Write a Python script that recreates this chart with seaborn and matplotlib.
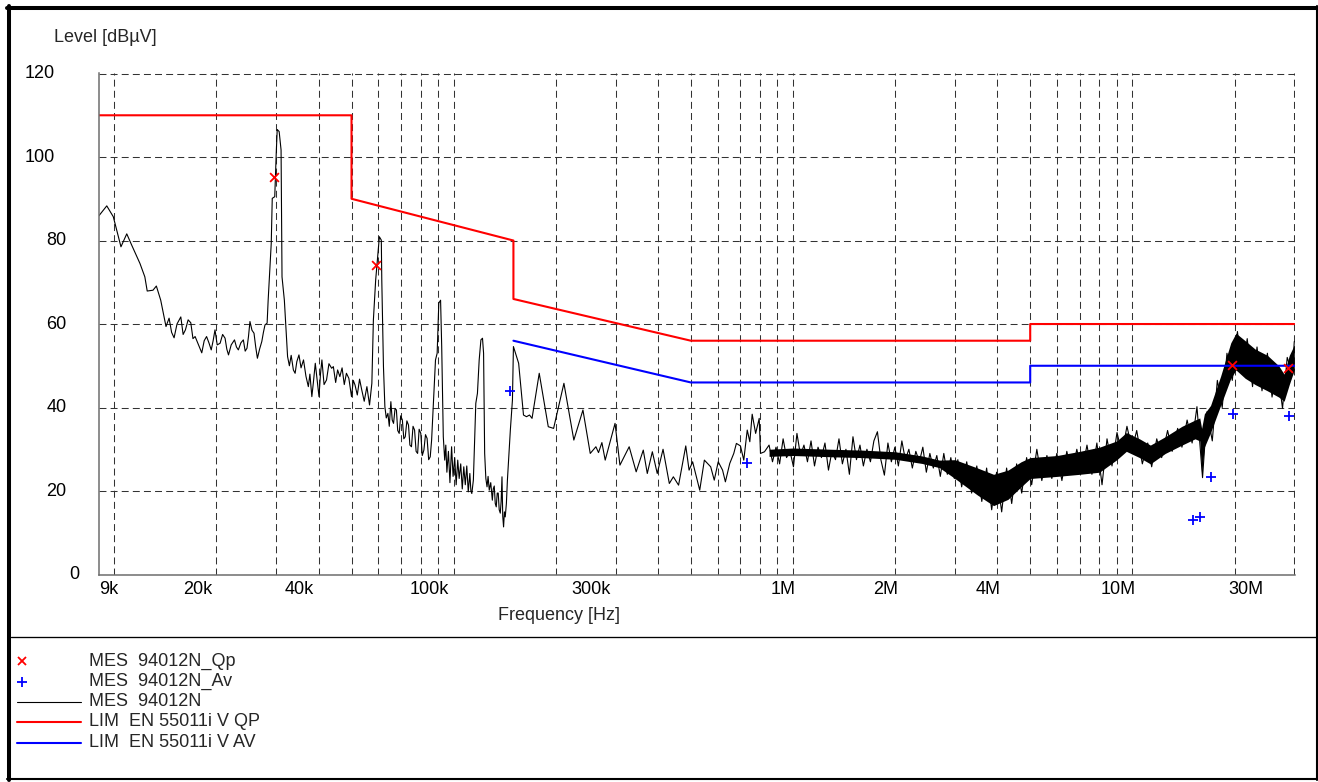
import numpy as np
import pandas as pd
import matplotlib
matplotlib.use("Agg")
import matplotlib.pyplot as plt
from matplotlib.lines import Line2D
from matplotlib.ticker import NullFormatter
import seaborn as sns

# ---------------------------------------------------------------------------
# Peak scan, 9 kHz .. 830 kHz  (frequency in kHz, level in dBuV)
trace_lf_khz = [
    9.0, 9.5, 9.93, 10.46, 10.88, 11.25, 11.9, 12.3, 12.5, 13.0, 13.3, 13.7,
    14.2, 14.5, 14.75, 15.0, 15.3, 15.7, 15.95, 16.2, 16.5, 16.8, 17.05, 17.3,
    17.7, 18.1, 18.4, 18.7, 19.0, 19.3, 19.55, 19.8, 20.1, 20.5, 20.85, 21.2,
    21.45, 21.7, 22.1, 22.6, 22.9, 23.2, 23.6, 24.0, 24.3, 24.6, 24.85, 25.1,
    25.45, 25.8, 26.1, 26.4, 26.8, 27.2, 27.5, 27.8, 28.2,
    28.4, 29.0, 29.2, 29.7, 30.0, 30.2, 30.6, 31.0, 31.2, 31.7,
    32.4, 32.8, 33.2, 33.7, 34.1, 34.5, 35.0, 35.5, 36.1, 36.7, 37.3, 37.7,
    38.2, 38.6, 39.1, 39.6,
    40.1, 40.5, 40.9, 41.5, 42.2, 42.9, 43.7, 44.2, 44.9, 45.5, 46.2, 46.9,
    47.6, 48.3, 49.1, 50.0, 50.6, 51.2, 52.0, 52.8, 53.6, 54.5, 55.5, 56.5,
    57.4, 58.0, 58.9, 60.4, 61.2, 61.4, 62.1,
    62.7, 63.3, 64.0, 64.6, 65.3, 65.9, 66.5, 67.2, 67.8, 68.4, 69.1, 69.8,
    70.6, 71.3, 72.0, 72.8, 73.6, 74.3, 75.1, 75.9, 76.7, 77.5, 78.3, 79.1,
    80.0, 80.8, 81.7, 82.6, 83.5, 84.4, 85.3, 86.1,
    88.4, 89.4, 90.4, 91.5, 92.2, 93.2,
    94.1, 94.8, 95.5, 96.5, 97.5, 98.6, 99.6, 100.7, 101.7, 102.8, 103.8,
    104.9, 106.0, 107.1, 108.2, 109.3, 110.4, 111.6, 112.4, 113.1, 114.3,
    116.2, 117.5, 118.9, 120.3, 121.6, 122.5,
    123.4, 124.4, 125.4, 126.3, 127.3, 128.6, 130.0, 130.8, 131.7, 132.6,
    133.5, 134.4, 135.3, 136.2, 137.2, 138.0, 138.8, 139.5, 140.3, 141.1,
    141.9, 143.0, 144.0, 146.9, 149.0,
    150.0, 155.4, 160.6, 163.9, 167.3, 170.2, 178.7, 190.0, 197.0,
    211.3, 226.0, 240.4, 252.6, 262.5, 267.2, 273.4, 279.6, 298.9, 309.0,
    329.0, 345.0, 362.0, 372.0, 385.0, 398.0, 414.0, 432.0, 444.0, 460.0,
    483.0, 494.0, 506.0, 531.0, 548.0, 572.0, 586.0, 602.0, 620.0, 632.0,
    651.0, 669.0, 681.0, 700.0, 716.0, 733.0, 746.0, 758.0, 776.0, 795.0,
    802.0, 824.0,
]
trace_lf_db = [
    85.9, 88.3, 85.7, 78.5, 81.6, 78.9, 74.5, 71.3, 67.9, 68.1, 69.1, 65.7,
    59.4, 61.4, 58.0, 56.7, 60.0, 61.7, 57.5, 58.6, 61.0, 60.3, 56.5, 57.0,
    55.0, 53.1, 56.0, 57.0, 55.5, 53.8, 56.0, 58.6, 55.0, 55.4, 57.5, 56.6,
    54.0, 52.6, 55.0, 56.2, 54.5, 53.8, 55.5, 56.2, 53.5, 54.2, 57.0, 60.6,
    58.5, 57.8, 54.5, 51.8, 54.0, 55.8, 58.0, 59.8, 60.2,
    65.7, 79.3, 90.1, 90.5, 100.9, 106.6, 106.1, 101.7, 71.3, 65.7,
    52.2, 50.0, 52.5, 49.0, 48.2, 51.0, 52.6, 49.5, 51.4, 47.5, 45.0, 48.0,
    42.6, 46.0, 50.6, 46.5,
    42.6, 48.0, 51.4, 45.5, 46.6, 50.5, 49.4, 49.8, 46.0, 49.0, 47.4, 49.5,
    45.5, 48.2, 47.0, 42.6, 46.5, 45.4, 43.0, 46.8, 44.2, 41.5, 45.0, 40.6,
    45.8, 61.0, 70.5, 80.9, 80.1, 70.5, 49.8,
    40.2, 37.5, 38.6, 35.5, 41.4, 37.0, 36.2, 39.8, 39.4, 34.5, 33.8, 38.0,
    37.0, 32.5, 33.0, 36.8, 35.8, 31.0, 30.6, 35.5, 34.6, 29.5, 29.0, 34.8,
    33.8, 28.5, 29.8, 33.5, 32.6, 27.5, 28.2, 32.2,
    51.4, 53.0, 65.0, 65.7, 54.6, 33.0,
    27.4, 31.0, 24.5, 29.5, 22.0, 30.6, 23.5, 28.0, 21.5, 27.4, 23.0,
    26.5, 20.5, 25.8, 21.5, 26.0, 19.8, 24.2, 20.0, 19.4, 22.6,
    41.0, 43.4, 51.4, 56.2, 56.6, 53.0,
    29.0, 23.0, 21.0, 23.5, 20.2, 22.0, 17.8, 20.5, 21.2, 17.0,
    16.2, 19.5, 19.5, 15.5, 14.7, 17.5, 23.4, 14.0, 11.4, 15.0,
    13.8, 17.0, 22.6, 34.6, 41.8,
    54.6, 50.6, 38.2, 37.8, 38.2, 37.4, 48.2, 35.4, 35.0,
    45.8, 32.2, 39.4, 29.0, 30.6, 29.2, 31.6, 27.4, 36.2, 26.2,
    30.6, 24.6, 29.8, 24.2, 29.4, 24.2, 30.0, 21.8, 23.4, 21.4,
    30.8, 25.0, 27.0, 20.2, 27.4, 25.8, 22.6, 27.0, 25.0, 22.2,
    26.6, 29.0, 31.4, 30.8, 27.4, 34.6, 31.8, 38.4, 33.8, 37.4,
    29.0, 29.4,
]

# Peak scan, 850 kHz .. 30 MHz  (frequency in MHz, level in dBuV)
trace_hf_mhz = [
    0.850, 0.870, 0.891, 0.913, 0.935, 0.957, 0.980, 1.003, 1.027, 1.052,
    1.077, 1.103, 1.130, 1.157, 1.185, 1.213, 1.242, 1.272, 1.302, 1.334,
    1.366, 1.398, 1.432, 1.466, 1.502, 1.538, 1.575, 1.612, 1.651, 1.691,
    1.731, 1.773, 1.815, 1.859, 1.904, 1.949, 1.996, 2.044, 2.093, 2.143,
    2.195, 2.247, 2.301, 2.357, 2.413, 2.471, 2.531, 2.591, 2.653, 2.717,
    2.782, 2.849, 2.918, 2.988,
    3.06, 3.14, 3.25, 3.36, 3.48, 3.60, 3.72, 3.85, 3.98, 4.12,
    4.26, 4.41, 4.56, 4.72, 4.88, 5.05, 5.23, 5.41, 5.60, 5.79, 5.99, 6.20,
    6.41, 6.63, 6.86, 7.10, 7.35, 7.60, 7.86, 8.14, 8.42, 8.71, 9.01, 9.32,
    9.64, 9.98, 10.3, 10.7, 11.1, 11.4, 11.8, 12.2, 12.7, 13.1, 13.6, 14.0,
    14.5, 15.0, 15.5, 16.1, 16.6, 17.2, 17.8, 18.4, 19.0, 19.7, 20.4, 21.1,
    21.8, 22.6, 23.3, 24.1, 25.0, 25.8, 26.7, 27.7, 28.6, 29.6, 30.0,
]
trace_hf_db = [
    31.0, 27.0, 30.5, 26.5, 32.5, 28.0, 29.5, 25.8, 33.8, 28.5,
    31.0, 27.0, 32.0, 26.0, 30.5, 28.0, 31.5, 25.0, 29.5, 27.5,
    32.5, 26.5, 30.0, 24.0, 33.0, 27.5, 31.0, 26.0, 30.0, 27.0,
    32.0, 34.2, 27.5, 23.8, 31.5, 27.0, 30.5, 26.0, 32.0, 27.5,
    30.0, 25.5, 29.5, 27.0, 30.5, 24.5, 29.0, 25.5, 28.5, 23.5,
    29.0, 24.0, 28.0, 23.0,
    27.5, 21.0, 27.0, 19.5, 26.0, 17.5, 25.5, 15.5, 24.5, 15.0,
    25.5, 17.0, 26.5, 19.5, 28.0, 21.5, 30.0, 22.5, 28.5, 23.0, 29.0, 22.5,
    29.5, 24.0, 30.0, 24.5, 31.0, 24.0, 31.5, 21.5, 32.5, 26.0, 34.0, 29.0,
    35.5, 30.0, 34.5, 26.5, 31.5, 25.8, 32.5, 28.0, 34.5, 29.5, 35.0, 30.5,
    37.0, 31.5, 40.2, 23.2, 39.0, 32.0, 46.5, 40.0, 53.0, 46.5, 58.2, 48.0,
    56.5, 45.0, 54.5, 44.0, 53.0, 42.5, 50.0, 39.8, 52.0, 48.0, 55.8,
]

# Dense core of the HF scan (MHz, lower / upper dBuV)
core_mhz = [0.85, 1.0, 1.3, 1.6, 2.0, 2.4, 2.7,
            3.0, 3.5, 3.9, 4.3, 4.7, 5.0, 6.0, 7.0,
            8.0, 9.0, 9.6, 10.5, 11.3, 12.5, 14.0, 15.3, 15.8, 16.0, 16.3,
            17.0, 18.2, 19.5, 20.2, 21.5, 23.0, 25.0, 27.0, 28.0, 29.0, 30.0]
core_lo = [28.3, 28.5, 28.2, 28.0, 27.6, 26.6, 25.6,
           23.0, 19.0, 16.5, 18.0, 21.0, 23.0, 23.5, 24.0,
           24.5, 27.5, 29.5, 28.0, 26.5, 29.0, 31.0, 32.5, 32.0, 24.0, 30.5,
           34.0, 40.5, 47.0, 49.0, 47.0, 45.5, 44.0, 42.5, 41.5, 45.5, 49.0]
core_hi = [30.0, 30.3, 30.0, 29.8, 29.4, 28.4, 27.4,
           27.5, 25.5, 24.0, 25.0, 27.0, 28.0, 28.5, 29.5,
           30.5, 32.0, 34.0, 32.5, 31.0, 33.0, 35.5, 37.0, 37.5, 35.0, 38.5,
           40.5, 47.5, 55.5, 57.8, 56.0, 54.0, 52.5, 50.0, 48.0, 52.5, 55.0]

# Final measurements
qp_hz = [29.55e3, 59.0e3, 19.6e6, 28.8e6]
qp_db = [95.3, 74.1, 50.2, 49.4]
av_hz = [146.6e3, 733e3, 15.1e6, 15.8e6, 17.1e6, 19.8e6, 28.9e6]
av_db = [44.0, 26.8, 13.05, 13.7, 23.3, 38.4, 38.0]

# EN 55011 limit lines
lim_qp_hz = [9e3, 50e3, 50e3, 150e3, 150e3, 500e3, 5e6, 5e6, 30e6]
lim_qp_db = [110, 110, 90, 80, 66, 56, 56, 60, 60]
lim_av_hz = [150e3, 500e3, 5e6, 5e6, 30e6]
lim_av_db = [56, 46, 46, 50, 50]

# Axis labelling
xtick_hz = [9e3, 20e3, 40e3, 100e3, 300e3, 1e6, 2e6, 4e6, 10e6, 30e6]
xtick_labels = ["9k", "20k", "40k", "100k", "300k", "1M", "2M", "4M", "10M", "30M"]
ytick_db = [0, 20, 40, 60, 80, 100, 120]
grid_hz = [k * 10 ** e for e in (4, 5, 6) for k in range(1, 10)] + [1e7, 2e7, 3e7]

legend_labels = ["MES  94012N_Qp", "MES  94012N_Av", "MES  94012N",
                 "LIM  EN 55011i V QP", "LIM  EN 55011i V AV"]

# ---------------------------------------------------------------------------
W, H, DPI = 1318, 782, 100
sns.set_theme(style="white")
plt.rcParams["font.family"] = ["Liberation Sans", "DejaVu Sans"]
plt.rcParams["lines.scale_dashes"] = False
FS = 13


def fx(px):
    return px / W


def fy(py):
    return 1 - py / H


fig = plt.figure(figsize=(W / DPI, H / DPI), dpi=DPI)
fig.patch.set_facecolor("white")

ax_l, ax_r, ax_t, ax_b = 98.8, 1295.0, 72.7, 574.5
ax = fig.add_axes([fx(ax_l), fy(ax_b), fx(ax_r) - fx(ax_l), fy(ax_t) - fy(ax_b)])
ax.set_xscale("log")
ax.set_xlim(9e3, 30.15e6)
ax.set_ylim(0, 120.2)
ax.set_facecolor("white")

# grid
dash = (0, (5, 3))
ax.set_xticks([])
ax.set_xticks(grid_hz, minor=True)
ax.xaxis.set_minor_formatter(NullFormatter())
ax.set_yticks(ytick_db)
ax.tick_params(which="both", length=0, labelleft=False, labelbottom=False)
ax.grid(which="minor", axis="x", color="#333333", lw=0.75, linestyle=dash)
ax.grid(which="major", axis="y", color="#333333", lw=0.75, linestyle=dash)
ax.grid(which="major", axis="x", visible=False)
for side in ("top", "right"):
    ax.spines[side].set_visible(False)
for side in ("left", "bottom"):
    ax.spines[side].set_color("#6e6e6e")
    ax.spines[side].set_linewidth(1.1)
ax.set_axisbelow(True)

# measured trace
trace = pd.DataFrame({
    "freq": np.r_[np.asarray(trace_lf_khz) * 1e3, np.asarray(trace_hf_mhz) * 1e6],
    "level": np.r_[trace_lf_db, trace_hf_db],
})
ax.fill_between(np.asarray(core_mhz) * 1e6, core_lo, core_hi, color="black", lw=0)
sns.lineplot(data=trace, x="freq", y="level", color="black", lw=0.8,
             estimator=None, sort=False, ax=ax)

# limit lines
sns.lineplot(x=lim_qp_hz, y=lim_qp_db, color="#ff0000", lw=1.5,
             estimator=None, sort=False, ax=ax)
sns.lineplot(x=lim_av_hz, y=lim_av_db, color="#0000ff", lw=1.5,
             estimator=None, sort=False, ax=ax)

# final measurement markers
sns.scatterplot(x=qp_hz, y=qp_db, marker="x", color="#ff0000", s=40,
                linewidth=1.3, ax=ax, zorder=5)
sns.scatterplot(x=av_hz, y=av_db, marker="+", color="#0000ff", s=55,
                linewidth=1.3, ax=ax, zorder=5)
ax.set_xlabel("")
ax.set_ylabel("")

# tick labels
for f, lab in zip(xtick_hz, xtick_labels):
    if lab == xtick_labels[0]:
        ha, dx = "left", 0.5
    elif lab == xtick_labels[-1]:
        ha, dx = "right", -31
    elif lab.endswith("k"):
        ha, dx = "right", -4.5
    else:
        ha, dx = "right", 3
    ax.annotate(lab, xy=(f, 0), xycoords=("data", "axes fraction"),
                xytext=(dx, -15), textcoords="offset pixels",
                ha=ha, va="center", fontsize=FS, color="black",
                annotation_clip=False)
for v in ytick_db:
    s = str(v)
    ax.annotate(s, xy=(0, v), xycoords=("axes fraction", "data"),
                xytext=(-(7.5 + 12.3 * len(s)), 0), textcoords="offset pixels",
                ha="right", va="center", fontsize=FS, color="black",
                annotation_clip=False)

fig.text(fx(54.3), fy(38), "Level [dBµV]", ha="left", va="center", fontsize=FS)
fig.text(fx(559), fy(616), "Frequency [Hz]", ha="center", va="center", fontsize=FS)

# legend block
row_y = [661, 681.5, 701.5, 721.5, 742.5]
fig.add_artist(Line2D([fx(22)], [fy(row_y[0])], marker="x", color="#ff0000",
                      ms=6, mew=1.3, ls="none"))
fig.add_artist(Line2D([fx(22)], [fy(row_y[1])], marker="+", color="#0000ff",
                      ms=7.5, mew=1.3, ls="none"))
for yy, col, lw in zip(row_y[2:], ["black", "#ff0000", "#0000ff"], [0.8, 1.5, 1.5]):
    fig.add_artist(Line2D([fx(17), fx(81)], [fy(yy), fy(yy)], color=col, lw=lw))
for yy, lab in zip(row_y, legend_labels):
    fig.text(fx(89.3), fy(yy), lab, ha="left", va="center", fontsize=FS)

# frame and separator
fig.add_artist(Line2D([fx(8.7), fx(8.7)], [fy(6), fy(780)], color="black", lw=2.9))
fig.add_artist(Line2D([fx(6.7), fx(1318)], [fy(8), fy(8)], color="black", lw=2.9))
fig.add_artist(Line2D([fx(1317), fx(1317)], [fy(6), fy(780)], color="black", lw=1.5))
fig.add_artist(Line2D([fx(6.7), fx(1318)], [fy(779), fy(779)], color="black", lw=1.5))
fig.add_artist(Line2D([fx(10.7), fx(1316)], [fy(637.3), fy(637.3)], color="black", lw=0.95))

fig.savefig("out.png", dpi=DPI, facecolor="white")
